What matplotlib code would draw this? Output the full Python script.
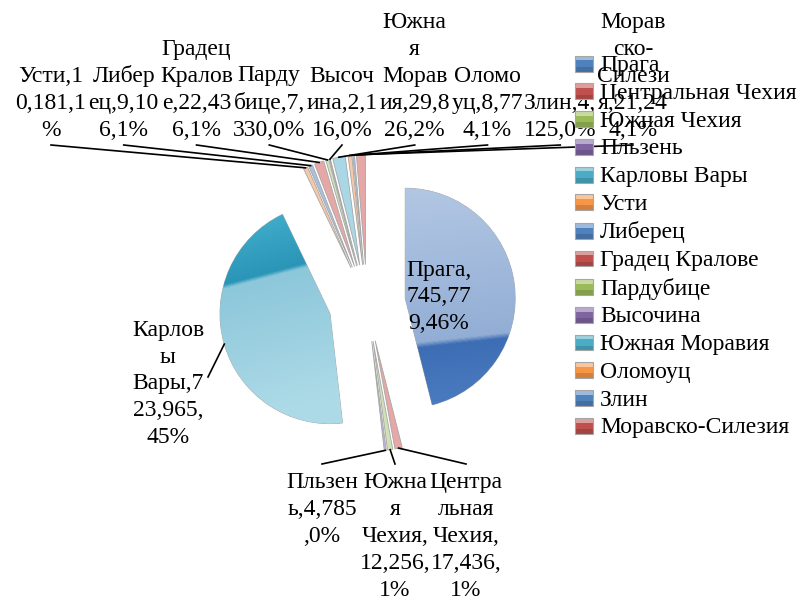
import numpy as np
import matplotlib
matplotlib.use("Agg")
import matplotlib.pyplot as plt
from matplotlib.colors import LinearSegmentedColormap, to_rgb
from matplotlib.font_manager import FontProperties
from matplotlib.patches import Patch, Rectangle
from matplotlib.legend_handler import HandlerBase

# данные по регионам
regions = ["Прага", "Центральная Чехия", "Южная Чехия", "Пльзень", "Карловы Вары",
           "Усти", "Либерец", "Градец Кралове", "Пардубице", "Высочина",
           "Южная Моравия", "Оломоуц", "Злин", "Моравско-Силезия"]
values = [745779, 17436, 12256, 4785, 723965, 10181, 9106, 22436, 7330, 2116,
          29826, 8774, 4125, 21244]

# длины строк при переносе подписей (как их разбил Excel)
line_breaks = [[6, 6], [6, 5, 6, 7], [4, 1, 6, 7], [6, 7], [6, 1, 6, 7],
               [6, 7], [5, 7], [6, 6, 7], [5, 7], [5, 7],
               [4, 1, 5, 7], [5, 7], [7], [5, 4, 6, 7]]

# цвета (палитра Office 2007)
base_colors = ["#4F81BD", "#C0504D", "#9BBB59", "#8064A2", "#4BACC6", "#F79646"]
pale_colors = ["#A9C0DF", "#E6A8A7", "#D1E1B6", "#BFB2D4", "#A9D7E5", "#F9C8A4"]

# геометрия в пикселях
W, H = 800, 600
CX, CY, R = 367, 303, 110
FS = 17
font = FontProperties(family=["Liberation Serif", "DejaVu Serif"], size=FS)
LS = 1.37


def to_data(x, y):
    return (x - CX) / R, (CY - y) / R


def wrap_label(s, lengths):
    lines = []
    for L in lengths:
        lines.append(s[:L])
        s = s[L:].lstrip(" ")
    lines.append(s)
    return "\n".join(lines)


class GlossyHandler(HandlerBase):
    # квадратик легенды с "объёмом", как в Excel
    def create_artists(self, legend, orig, xd, yd, width, height, fontsize, trans):
        c = np.array(to_rgb(orig.get_facecolor()))
        light = c + (1 - c) * 0.45
        dark = c * 0.85
        arts = [
            Rectangle((xd, yd), width, height, facecolor=dark, edgecolor="none", transform=trans),
            Rectangle((xd, yd + height * 0.3), width, height * 0.45, facecolor=c,
                      edgecolor="none", transform=trans),
            Rectangle((xd, yd + height * 0.7), width, height * 0.3, facecolor=light,
                      edgecolor="none", transform=trans),
            Rectangle((xd, yd), width, height, facecolor="none", edgecolor="#A6A6A6",
                      linewidth=0.8, transform=trans),
        ]
        return arts


fig = plt.figure(figsize=(W / 100, H / 100), dpi=100)
ax = fig.add_axes([0, 0, 1, 1])
n = len(values)
wedges, _ = ax.pie(values, startangle=90, counterclock=False, explode=[0.35] * n,
                   colors=[pale_colors[i % 6] for i in range(n)],
                   wedgeprops=dict(edgecolor="#A6A6A6", linewidth=0.6))

# градиентная заливка двух больших секторов
shade = {
    0: ([(0, "#B2C7E3"), (0.72, "#93AED5"), (0.745, "#3D6DB4"), (1, "#4A7ABE")], 0.057),
    4: ([(0, "#46B2CF"), (0.34, "#2A95B7"), (0.36, "#8CC7DA"), (1, "#ADDAE7")], 0.154),
}
for idx, (stops, slant) in shade.items():
    w = wedges[idx]
    ext = w.get_path().get_extents()
    tb = np.linspace(0, 1, 300)[:, None]
    xf = np.linspace(0, 1, 300)[None, :]
    grad = np.clip(tb + slant * xf, 0, 1)
    cmap = LinearSegmentedColormap.from_list("g%d" % idx, stops)
    im = ax.imshow(grad, extent=(ext.x0, ext.x1, ext.y0, ext.y1), origin="upper",
                   cmap=cmap, vmin=0, vmax=1, interpolation="bilinear", zorder=1.5)
    im.set_clip_path(w)

# подписи
total = sum(values)
texts = [wrap_label(f"{r},{v:,},{v / total * 100:.0f}%", br)
         for r, v, br in zip(regions, values, line_breaks)]


def outer_mid(w):
    a = np.deg2rad((w.theta1 + w.theta2) / 2)
    return w.center[0] + w.r * np.cos(a), w.center[1] + w.r * np.sin(a)


line_kw = dict(color="black", linewidth=1.2, zorder=3)
txt_kw = dict(ha="center", multialignment="center", fontproperties=font,
              linespacing=LS, zorder=4)

# верхний ряд
top_idx = [5, 6, 7, 8, 9, 10, 11, 12, 13]
for k, i in enumerate(top_idx):
    lx = 51 + 72.75 * k
    ax.text(*to_data(lx, 141), texts[i], va="bottom", **txt_kw)
    sx, sy = to_data(lx, 145)
    mx, my = outer_mid(wedges[i])
    ax.plot([sx, mx], [sy, my], **line_kw)

# нижний ряд
for i, lx in zip([3, 2, 1], [322, 395, 466]):
    ax.text(*to_data(lx, 472), texts[i], va="top", **txt_kw)
    sx, sy = to_data(lx, 464)
    mx, my = outer_mid(wedges[i])
    ax.plot([sx, mx], [sy, my], **line_kw)

# Прага внутри сектора
ax.text(*to_data(439, 297), texts[0], va="center", **txt_kw)

# Карловы Вары слева
ax.text(*to_data(168, 384), texts[4], va="center", **txt_kw)
mx, my = outer_mid(wedges[4])
sx, sy = to_data(208, 377)
ax.plot([sx, mx], [sy, my], **line_kw)

handles = [Patch(facecolor=base_colors[i % 6]) for i in range(n)]
ax.legend(handles, regions, loc="upper left", bbox_to_anchor=(575 / W, 1 - 55 / H),
          bbox_transform=fig.transFigure, frameon=False, prop=font,
          handlelength=0.76, handleheight=0.66, handletextpad=0.3, labelspacing=0.275,
          borderpad=0, borderaxespad=0, handler_map={Patch: GlossyHandler()})

ax.set_xlim(-CX / R, (W - CX) / R)
ax.set_ylim(-(H - CY) / R, CY / R)
ax.set_aspect("equal")
ax.axis("off")

fig.savefig("out.png", dpi=100)
